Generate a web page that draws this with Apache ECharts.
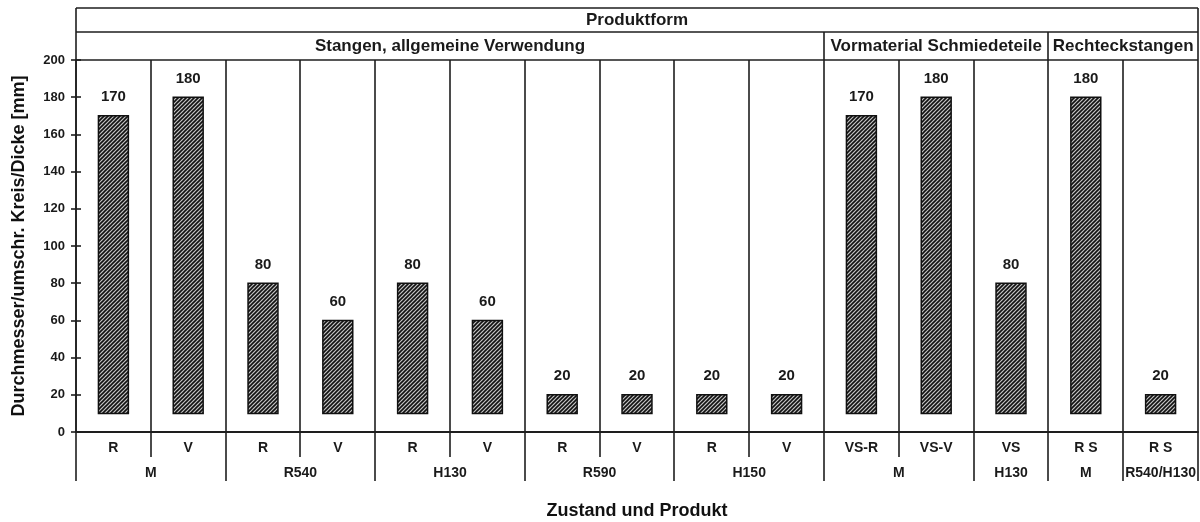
<!DOCTYPE html>
<html>
<head>
<meta charset="utf-8">
<script src="https://cdn.jsdelivr.net/npm/echarts@6/dist/echarts.min.js"></script>
<style>
html,body{margin:0;padding:0;background:#fff;}
#chart{width:1200px;height:522px;}
</style>
</head>
<body>
<div id="chart"></div>
<script>
// ---- data ----
const zustand = ['R','V','R','V','R','V','R','V','R','V','VS-R','VS-V','VS','R S','R S'];
const values = [170,180,80,60,80,60,20,20,20,20,170,180,80,180,20];
const barBase = 10;
const produktGroups = ['M','R540','H130','R590','H150','M','H130','M','R540/H130'];
const produktSpans = [2,2,2,2,2,2,1,1,1];
const formGroups = ['Stangen, allgemeine Verwendung','Vormaterial Schmiedeteile','Rechteckstangen'];
const formSpans = [10,3,2];
const yMin = 0, yMax = 200, yStep = 20;
const yTitle = 'Durchmesser/umschr. Kreis/Dicke [mm]';
const xTitle = 'Zustand und Produkt';
const topTitle = 'Produktform';

// ---- layout ----
const W = 1200, H = 522;
const L = 76, R = 1198;
const T0 = 8, T1 = 32, T2 = 60, B0 = 432, B1 = 457, B2 = 481;
const FONT = '"Liberation Sans", Arial, sans-serif';
const LINE = '#1e1e1e';
const catW = (R - L) / zustand.length;

// hatch pattern
const pc = document.createElement('canvas');
pc.width = 4; pc.height = 4;
const g = pc.getContext('2d');
g.fillStyle = '#c4c4c4';
g.fillRect(0,0,4,4);
g.strokeStyle = '#111';
g.lineWidth = 1.6;
g.beginPath();
g.moveTo(0,4); g.lineTo(4,0);
g.moveTo(-1,1); g.lineTo(1,-1);
g.moveTo(3,5); g.lineTo(5,3);
g.stroke();
const hatch = {image: pc, repeat: 'repeat'};

// boundaries
function cumBounds(spans){ const s=new Set(); let c=0; spans.forEach(n=>{c+=n; s.add(c);}); return s; }
const prodB = cumBounds(produktSpans);
const formB = cumBounds(formSpans);

const graphics = [];
function hline(y){ graphics.push({type:'line', shape:{x1:L,y1:y,x2:R,y2:y}, style:{stroke:LINE,lineWidth:1.6}, z:10}); }
function vline(x,y1,y2){ graphics.push({type:'line', shape:{x1:x,y1:y1,x2:x,y2:y2}, style:{stroke:LINE,lineWidth:1.6}, z:10}); }
hline(T0); hline(T1); hline(T2);
vline(L, T0, B2); vline(R, T0, B2);
for (let i = 1; i < zustand.length; i++) {
  const x = Math.round(L + i*catW);
  const yTop = formB.has(i) ? T1 : T2;
  const yBot = prodB.has(i) ? B2 : B1;
  vline(x, yTop, yBot);
}
function text(t, x, y, size){
  graphics.push({type:'text', x:x, y:y, style:{text:t, fill:'#1a1a1a', font:'bold '+size+'px '+FONT, align:'center', verticalAlign:'middle'}, z:11});
}
text(topTitle, (L+R)/2, 20, 17);
let c = 0;
formGroups.forEach((n,k)=>{ const cx = L + (c + formSpans[k]/2)*catW; text(n, cx, 46, 17); c += formSpans[k]; });
c = 0;
produktGroups.forEach((n,k)=>{ const cx = L + (c + produktSpans[k]/2)*catW; text(n, cx, 473, 14); c += produktSpans[k]; });

const chart = echarts.init(document.getElementById('chart'), null, {renderer:'canvas'});
chart.setOption({
  animation: false,
  backgroundColor: '#fff',
  grid: {left: L, right: W - R, top: T2, bottom: H - B0, containLabel: false, outerBoundsMode: 'none'},
  xAxis: {
    type: 'category',
    data: zustand,
    axisLine: {show: true, lineStyle: {color: LINE, width: 1.8}},
    axisTick: {show: false},
    splitLine: {show: false},
    axisLabel: {color:'#1a1a1a', fontWeight:'bold', fontSize:14, fontFamily:FONT, margin:9, interval:0},
    name: xTitle,
    nameLocation: 'middle',
    nameGap: 70,
    nameTextStyle: {color:'#111', fontWeight:'bold', fontSize:18, fontFamily:FONT}
  },
  yAxis: [{
    type: 'value',
    min: yMin, max: yMax, interval: yStep,
    axisLine: {show: true, lineStyle: {color: LINE, width: 1.6}},
    axisTick: {show: true, length: 5, lineStyle: {color: LINE, width: 1.6}},
    splitLine: {show: false},
    axisLabel: {color:'#1a1a1a', fontWeight:'bold', fontSize:13, fontFamily:FONT, margin:11},
    name: yTitle,
    nameLocation: 'middle',
    nameRotate: 90,
    nameGap: 48,
    nameTextStyle: {color:'#111', fontWeight:'bold', fontSize:18, fontFamily:FONT}
  },{
    type: 'value',
    position: 'left',
    min: yMin, max: yMax, interval: yStep,
    axisLine: {show: false},
    axisTick: {show: true, inside: true, length: 5, lineStyle: {color: LINE, width: 1.6}},
    axisLabel: {show: false},
    splitLine: {show: false}
  }],
  series: [{
    type: 'custom',
    data: values.map((v,i)=>[i,v]),
    encode: {x: 0, y: 1},
    renderItem: function(params, api){
      const xi = api.value(0), v = api.value(1);
      const top = api.coord([xi, v]);
      const bot = api.coord([xi, barBase]);
      const w = api.size([1,0])[0] * 0.4;
      return {
        type: 'group',
        children: [{
          type: 'rect',
          shape: {x: top[0]-w/2, y: top[1], width: w, height: bot[1]-top[1]},
          style: {fill: hatch, stroke: '#111', lineWidth: 1.5}
        },{
          type: 'text',
          style: {text: String(v), x: top[0], y: top[1]-11, align:'center', verticalAlign:'bottom',
                  font: 'bold 15px '+FONT, fill:'#1a1a1a'}
        }]
      };
    }
  }],
  graphic: graphics
});
</script>
</body>
</html>
